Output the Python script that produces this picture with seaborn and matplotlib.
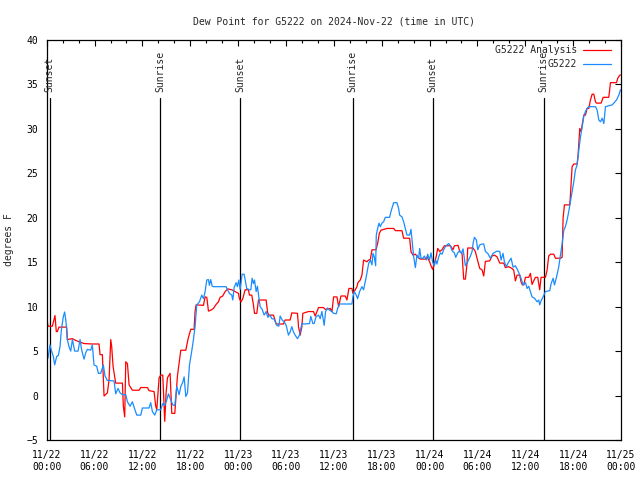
import numpy as np
import pandas as pd
import matplotlib
matplotlib.use('Agg')
import matplotlib.pyplot as plt
import seaborn as sns

# --- данные (часы от 11/22 00:00 UTC) ---
red_hours = [0.0, 0.16, 0.71, 1.04, 1.2, 1.33, 1.54, 2.5, 2.59, 3.22, 3.63, 4.68, 5.72, 6.56, 6.69, 6.98,
             7.19, 7.61, 7.82, 8.03, 8.15, 8.32, 8.65, 9.49, 9.61, 9.78, 9.91, 10.12, 10.33, 10.74, 11.58,
             11.79, 12.63, 12.83, 13.46, 13.67, 13.8, 14.09, 14.3, 14.55, 14.72, 14.8, 14.97, 15.14, 15.47,
             15.68, 16.06, 16.39, 16.81, 17.44, 17.73, 18.06, 18.48, 18.6, 18.73, 19.65, 19.86, 20.07, 20.28,
             20.57, 20.9, 21.24, 21.53, 21.74, 22.07, 22.37, 22.7, 23.2, 23.62, 24.04, 24.16, 24.37, 24.58,
             24.88, 25.29, 25.42, 25.71, 25.92, 26.05, 26.34, 26.55, 27.51, 27.68, 27.8, 28.43, 28.77, 29.69,
             29.89, 30.52, 30.73, 31.44, 31.57, 31.78, 31.99, 32.11, 32.82, 33.45, 33.66, 34.08, 34.7, 34.91,
             35.55, 35.76, 35.97, 36.39, 36.6, 36.89, 37.43, 37.64, 37.89, 38.27, 38.39, 38.56, 38.9, 39.02,
             39.31, 39.52, 39.73, 40.15, 40.36, 40.57, 40.78, 41.28, 41.49, 41.7, 41.91, 42.66, 43.5, 43.71,
             44.54, 44.75, 45.5, 45.67, 45.92, 46.22, 46.51, 46.84, 47.47, 47.68, 48.01, 48.22, 48.39, 48.6,
             48.85, 49.02, 49.27, 49.56, 49.85, 50.61, 50.94, 51.11, 51.57, 51.78, 52.07, 52.28, 52.49, 52.7,
             52.78, 53.45, 53.74, 53.95, 54.29, 54.58, 54.79, 55.0, 55.54, 55.83, 56.13, 56.46, 56.8, 57.3,
             57.5, 57.9, 58.34, 58.55, 58.76, 58.97, 59.3, 59.47, 59.64, 59.81, 60.02, 60.43, 60.64, 60.85,
             61.27, 61.56, 61.81, 61.98, 62.53, 62.73, 62.94, 63.15, 63.57, 63.78, 64.41, 64.62, 64.74, 64.91,
             65.58, 65.66, 65.87, 66.08, 66.5, 66.62, 66.83, 67.0, 67.13, 67.34, 67.54, 67.75, 67.96, 68.17,
             68.38, 68.59, 68.8, 68.92, 69.51, 69.76, 70.47, 70.68, 71.43, 71.6, 71.85, 71.94]
red_vals = [8.9, 7.8, 7.8, 9.0, 7.2, 7.2, 7.7, 7.7, 6.3, 6.4, 6.2, 5.85, 5.8, 5.8, 4.6, 4.6,
            -0.05, 0.3, 1.8, 6.3, 5.5, 3.3, 1.4, 1.4, -1.2, -2.4, 3.8, 3.6, 1.2, 0.6, 0.6,
            0.9, 0.9, 0.55, 0.45, -1.2, -1.6, 2.0, 2.3, 2.3, -1.2, -2.9, 0.3, 2.0, 2.5,
            -2.0, -2.0, 2.2, 5.1, 5.1, 6.4, 7.45, 7.45, 9.45, 10.2, 10.15, 11.1, 11.05, 9.5,
            9.6, 9.8, 10.25, 10.55, 11.05, 11.2, 11.7, 12.0, 11.9, 11.7, 11.5, 10.9, 10.55, 10.9,
            11.9, 11.9, 11.3, 11.3, 10.2, 9.25, 9.25, 10.75, 10.75, 9.45, 9.05, 9.05, 8.05, 8.05,
            8.5, 8.5, 9.3, 9.25, 7.75, 6.8, 7.75, 9.25, 9.45, 9.45, 8.95, 9.9, 9.9, 9.7,
            9.8, 9.45, 11.1, 11.1, 10.0, 11.2, 11.2, 10.75, 12.05, 12.05, 11.5, 11.7, 12.25, 12.7,
            13.0, 13.55, 15.25, 15.05, 15.25, 15.3, 16.4, 16.4, 17.1, 18.25, 18.6, 18.8, 18.8, 18.55,
            18.55, 17.7, 17.7, 16.2, 15.8, 15.9, 15.6, 15.35, 15.35, 15.6, 15.05, 14.5, 14.2, 14.85,
            15.7, 16.55, 16.2, 16.4, 16.85, 16.85, 16.4, 16.85, 16.9, 16.2, 16.0, 13.1, 13.1, 14.85,
            16.6, 16.6, 16.2, 15.45, 14.3, 14.15, 13.45, 15.1, 15.15, 15.7, 15.8, 15.6, 14.9, 14.9,
            14.4, 14.5, 14.3, 14.1, 12.9, 13.55, 13.55, 12.8, 12.45, 12.45, 13.3, 13.3, 13.75, 12.5,
            13.3, 13.3, 11.9, 13.3, 13.3, 14.1, 15.7, 15.9, 15.9, 15.45, 15.45, 15.55, 19.95, 21.45,
            21.45, 22.55, 25.75, 26.05, 26.05, 27.05, 30.05, 29.7, 30.45, 31.55, 31.55, 32.3, 32.3, 33.25,
            33.9, 33.9, 33.05, 32.9, 32.9, 33.55, 33.55, 35.2, 35.2, 35.7, 36.05, 36.05]

blue_hours = [0.0, 0.16, 0.41, 0.58, 0.83, 1.0, 1.25, 1.46, 1.67, 1.84, 2.09, 2.25, 2.42, 2.59, 2.8, 3.01,
              3.22, 3.51, 3.93, 4.18, 4.39, 4.68, 4.89, 5.1, 5.52, 5.72, 5.93, 6.27, 6.48, 6.77, 7.1, 7.31,
              7.61, 8.44, 8.65, 8.95, 9.2, 9.49, 9.91, 10.12, 10.45, 10.74, 10.95, 11.29, 11.79, 12.0, 12.83,
              13.04, 13.25, 13.55, 13.8, 14.3, 14.55, 14.8, 15.05, 15.26, 15.55, 15.85, 16.06, 16.31, 16.6,
              16.81, 17.06, 17.23, 17.44, 17.65, 17.9, 18.15, 18.39, 18.6, 18.81, 19.15, 19.44, 19.65, 19.86,
              20.07, 20.28, 20.4, 20.57, 20.74, 20.9, 22.49, 22.66, 22.91, 23.2, 23.33, 23.5, 23.75, 23.91,
              24.08, 24.25, 24.5, 24.75, 24.92, 25.08, 25.42, 25.59, 25.75, 25.92, 26.05, 26.26, 26.42, 26.59,
              26.76, 27.01, 27.26, 27.51, 27.72, 28.01, 28.22, 28.51, 28.85, 29.1, 29.27, 29.52, 29.77, 30.02,
              30.31, 30.52, 30.73, 30.94, 31.15, 31.44, 31.69, 31.99, 32.28, 32.95, 33.11, 33.37, 33.53, 33.78,
              34.08, 34.29, 34.5, 34.79, 34.96, 35.21, 35.46, 35.76, 35.97, 36.3, 36.47, 36.72, 38.27, 38.39,
              38.56, 38.81, 38.98, 39.23, 39.52, 39.73, 40.07, 40.36, 40.57, 40.78, 40.9, 41.07, 41.24, 41.32,
              41.49, 41.66, 41.82, 42.03, 42.24, 42.45, 42.99, 43.16, 43.5, 43.91, 44.12, 44.25, 44.54, 44.75,
              44.96, 45.17, 45.5, 45.67, 45.84, 46.01, 46.22, 46.42, 46.63, 46.76, 46.93, 47.18, 47.34, 47.6,
              47.76, 48.01, 48.18, 48.39, 48.6, 48.77, 48.93, 49.14, 49.35, 49.56, 49.77, 49.98, 50.19, 50.4,
              50.61, 50.82, 51.11, 51.28, 51.53, 51.78, 51.99, 52.2, 52.49, 52.78, 53.12, 53.33, 53.45, 53.62,
              53.87, 54.04, 54.29, 54.58, 54.79, 55.0, 55.29, 55.62, 55.96, 56.46, 56.8, 56.96, 57.21, 57.38,
              57.63, 57.93, 58.22, 58.47, 58.76, 59.05, 59.39, 59.72, 60.02, 60.23, 60.43, 60.64, 60.85, 61.15,
              61.48, 61.69, 61.81, 62.02, 62.23, 62.53, 63.07, 63.24, 63.49, 63.66, 63.91, 64.2, 64.41, 64.62,
              64.83, 65.03, 65.24, 65.45, 65.66, 65.87, 66.08, 66.29, 66.5, 66.71, 66.92, 67.13, 67.34, 67.54,
              67.75, 67.96, 68.8, 69.01, 69.22, 69.43, 69.64, 69.85, 70.05, 70.47, 70.89, 71.1, 71.43, 71.73,
              71.94]
blue_vals = [5.1, 4.2, 5.7, 5.1, 4.4, 3.45, 4.4, 4.5, 5.5, 7.4, 8.9, 9.4, 8.3, 6.3, 5.5, 5.0,
             6.3, 5.0, 5.0, 6.3, 5.1, 4.1, 4.8, 5.2, 5.1, 5.7, 3.45, 3.3, 2.5, 2.5, 3.45, 2.2,
             1.7, 1.65, 0.2, 0.8, 0.3, 0.1, 0.1, -0.7, -1.2, -0.7, -1.3, -2.2, -2.2, -1.4, -1.4,
             -0.8, -1.8, -2.2, -1.6, -1.6, -0.9, -1.1, -0.5, 0.2, -0.5, -1.1, -1.1, 1.0, 0.1,
             1.0, 1.5, 2.1, -0.1, 0.3, 3.45, 4.8, 6.25, 7.75, 10.2, 10.55, 11.3, 10.9, 11.7,
             13.0, 13.05, 12.4, 13.05, 12.3, 12.25, 12.25, 11.9, 11.5, 11.3, 10.75, 12.15, 12.7, 12.25,
             13.0, 11.95, 13.65, 13.65, 12.8, 12.05, 11.9, 11.9, 13.2, 12.6, 13.0, 11.7, 12.3, 11.1,
             10.0, 9.7, 9.05, 9.45, 8.8, 9.05, 8.65, 8.6, 7.9, 7.8, 8.95, 8.5, 8.3, 7.9,
             6.8, 7.15, 7.75, 7.15, 6.8, 6.4, 6.8, 8.1, 8.05, 8.1, 8.9, 8.1, 8.1, 8.9,
             9.05, 8.65, 9.45, 7.9, 9.45, 9.85, 9.6, 9.45, 9.25, 9.2, 9.8, 10.3, 10.3, 11.1,
             11.7, 11.3, 10.9, 11.7, 12.25, 11.9, 13.4, 14.85, 15.25, 14.7, 16.0, 15.6, 14.6, 18.05,
             18.8, 19.4, 19.0, 19.4, 19.55, 20.05, 20.05, 20.7, 21.7, 21.7, 21.05, 20.3, 20.1, 19.55,
             18.8, 18.05, 18.05, 18.7, 17.1, 15.6, 14.4, 15.8, 15.45, 16.55, 15.45, 15.45, 15.7, 15.25,
             15.9, 15.3, 16.05, 15.0, 14.6, 15.25, 14.8, 15.6, 16.05, 15.9, 16.4, 16.75, 16.95, 17.1,
             16.85, 16.3, 16.05, 15.55, 16.05, 16.3, 16.0, 16.5, 14.6, 15.05, 15.7, 16.2, 17.1, 17.8,
             17.5, 16.4, 16.95, 17.05, 17.05, 16.2, 16.0, 15.45, 16.0, 16.25, 16.2, 15.25, 16.0, 15.05,
             14.5, 15.05, 15.45, 14.45, 14.6, 14.1, 13.4, 12.45, 12.7, 12.05, 12.3, 11.7, 11.1, 10.95,
             10.55, 10.75, 10.2, 10.75, 11.1, 11.7, 11.8, 12.6, 13.2, 12.45, 13.3, 14.5, 15.8, 17.1,
             18.6, 19.0, 19.75, 20.7, 21.8, 22.95, 24.05, 25.4, 25.95, 27.6, 29.1, 30.2, 31.45, 31.95,
             32.3, 32.5, 32.5, 32.1, 31.0, 30.8, 31.2, 30.6, 32.5, 32.6, 32.7, 32.9, 33.25, 33.8,
             34.4]

event_hours = [0.38, 14.25, 24.29, 38.34, 48.38, 62.3]
event_names = ['Sunset', 'Sunrise', 'Sunset', 'Sunrise', 'Sunset', 'Sunrise']

xtick_hours = [0, 6, 12, 18, 24, 30, 36, 42, 48, 54, 60, 66, 72]
xtick_labels = ['11/22\n00:00', '11/22\n06:00', '11/22\n12:00', '11/22\n18:00',
                '11/23\n00:00', '11/23\n06:00', '11/23\n12:00', '11/23\n18:00',
                '11/24\n00:00', '11/24\n06:00', '11/24\n12:00', '11/24\n18:00',
                '11/25\n00:00']
ytick_vals = [-5, 0, 5, 10, 15, 20, 25, 30, 35, 40]

RED = '#ff0000'
BLUE = '#1a8cff'

sns.set_style('white')
plt.rcParams['font.family'] = ['DejaVu Sans Mono']
plt.rcParams['font.size'] = 7

df_red = pd.DataFrame({'hour': red_hours, 'dewpoint': red_vals})
df_blue = pd.DataFrame({'hour': blue_hours, 'dewpoint': blue_vals})

fig = plt.figure(figsize=(6.4, 4.8), dpi=100)
ax = fig.add_axes([46.7 / 640, 40 / 480, (621 - 46.7) / 640, 400 / 480])

sns.lineplot(data=df_red, x='hour', y='dewpoint', color=RED, lw=0.9,
             estimator=None, sort=False, label='G5222 Analysis', ax=ax)
sns.lineplot(data=df_blue, x='hour', y='dewpoint', color=BLUE, lw=0.9,
             estimator=None, sort=False, label='G5222', ax=ax)

# линии восхода/заката
for h, name in zip(event_hours, event_names):
    ax.plot([h, h], [-5, 33.5], color='black', lw=0.9, zorder=1)
    ax.text(h, 34.2, name, rotation=90, ha='center', va='bottom', fontsize=7)

ax.set_xlim(0, 72)
ax.set_ylim(-5, 40)
ax.set_xticks(xtick_hours)
ax.set_xticklabels(xtick_labels)
for t in ax.get_xticklabels():
    t.set_linespacing(1.2)
ax.set_xticks([h for h in range(0, 73, 2) if h % 6 != 0], minor=True)
ax.set_yticks(ytick_vals)
ax.tick_params(axis='both', which='both', direction='in', top=True, right=True,
               color='black', width=0.8, labelsize=7, colors='black')
ax.tick_params(axis='both', which='major', length=4.5)
ax.tick_params(axis='x', which='minor', length=2.5)
ax.tick_params(axis='x', which='major', pad=7.5)
ax.tick_params(axis='y', which='major', pad=6)
for s in ax.spines.values():
    s.set_color('black')
    s.set_linewidth(0.9)

ax.set_xlabel('')
ax.set_ylabel('degrees F', fontsize=7)
ax.yaxis.set_label_coords(-(46.7 - 14) / 574.3, 0.5)
ax.set_title('Dew Point for G5222 on 2024-Nov-22 (time in UTC)', fontsize=7, pad=11)

ax.legend(loc='upper right', bbox_to_anchor=(1 - 10 / 574.3, 1 - 5 / 400), borderaxespad=0,
          frameon=False, markerfirst=False, handlelength=2.9, handletextpad=0.6,
          labelspacing=0.45, borderpad=0, fontsize=7)

fig.savefig('out.png', dpi=100, facecolor='white')
